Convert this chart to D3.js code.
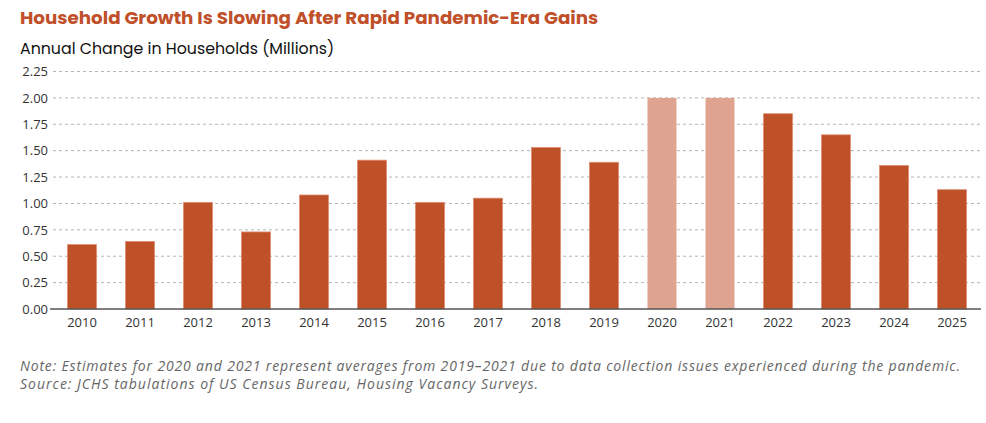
<!DOCTYPE html>
<html>
<head>
<meta charset="utf-8">
<script src="https://cdn.jsdelivr.net/npm/d3@7"></script>
<style>
  body { margin: 0; background: #fff; font-family: "Open Sans", sans-serif; }
</style>
</head>
<body>
<div id="chart"></div>
<script>
// Data
const years = ["2010","2011","2012","2013","2014","2015","2016","2017","2018","2019","2020","2021","2022","2023","2024","2025"];
const households = [0.61, 0.64, 1.01, 0.73, 1.08, 1.41, 1.01, 1.05, 1.53, 1.39, 2.00, 2.00, 1.85, 1.65, 1.36, 1.13];
const pandemicYears = ["2020", "2021"];
const yTicks = [0, 0.25, 0.5, 0.75, 1, 1.25, 1.5, 1.75, 2, 2.25];

const width = 986, height = 423;
const x0 = 53, x1 = 981, yTop = 71.5, yBottom = 309;

const svg = d3.select("#chart").append("svg")
  .attr("width", width).attr("height", height);

const x = d3.scaleBand().domain(years).range([x0, x1]).paddingInner(0.5).paddingOuter(0.25);
const y = d3.scaleLinear().domain([0, 2.25]).range([yBottom, yTop]);

// Title
svg.append("text")
  .attr("x", 20).attr("y", 24)
  .style("font-family", "Poppins, 'Open Sans', sans-serif")
  .style("font-weight", 700).style("font-size", "18.3px")
  .style("fill", "#c0502a")
  .text("Household Growth Is Slowing After Rapid Pandemic-Era Gains");

svg.append("text")
  .attr("x", 20).attr("y", 54)
  .style("font-family", "Poppins, 'Open Sans', sans-serif")
  .style("font-size", "15.8px").style("fill", "#111")
  .text("Annual Change in Households (Millions)");

// Grid
svg.append("g").selectAll("line")
  .data(yTicks.filter(d => d > 0))
  .join("line")
  .attr("x1", x0).attr("x2", x1)
  .attr("y1", d => y(d)).attr("y2", d => y(d))
  .attr("stroke", "#b5b5b5").attr("stroke-dasharray", "3,3");

// Y axis labels
const yAxis = svg.append("g")
  .attr("transform", `translate(${x0 - 5},0)`)
  .call(d3.axisLeft(y).tickValues(yTicks).tickFormat(d3.format(".2f")).tickSize(0).tickPadding(0));
yAxis.select(".domain").remove();
yAxis.selectAll("text").style("font-size", "13px").style("fill", "#333")
  .style("font-family", "'Open Sans', sans-serif");

// Bars
svg.append("g").selectAll("rect")
  .data(years)
  .join("rect")
  .attr("x", d => x(d))
  .attr("y", (d, i) => y(households[i]))
  .attr("width", x.bandwidth())
  .attr("height", (d, i) => y(0) - y(households[i]))
  .attr("fill", d => pandemicYears.includes(d) ? "#dfa48f" : "#bf5128")
  .attr("stroke", d => pandemicYears.includes(d) ? "none" : "#dc8c70")
  .attr("stroke-width", 0.8);

// X axis
const xAxis = svg.append("g")
  .attr("transform", `translate(0,${yBottom})`)
  .call(d3.axisBottom(x).tickSize(0).tickPadding(9));
xAxis.select(".domain").attr("stroke", "#555").attr("stroke-width", 1.5)
  .attr("d", `M${x0 - 3},0H${x1}`);
xAxis.selectAll("text").style("font-size", "13px").style("fill", "#333")
  .style("font-family", "'Open Sans', sans-serif");

// Notes
const notes = [
  "Note: Estimates for 2020 and 2021 represent averages from 2019\u20132021 due to data collection issues experienced during the pandemic.",
  "Source: JCHS tabulations of US Census Bureau, Housing Vacancy Surveys."
];
const noteWidths = [940, 518];
svg.append("g").selectAll("text")
  .data(notes)
  .join("text")
  .attr("x", 20).attr("y", (d, i) => 371 + i * 18)
  .attr("textLength", (d, i) => noteWidths[i])
  .attr("lengthAdjust", "spacing")
  .style("font-style", "italic").style("font-size", "14px").style("fill", "#666")
  .style("font-family", "'Open Sans', sans-serif")
  .text(d => d);
</script>
</body>
</html>
